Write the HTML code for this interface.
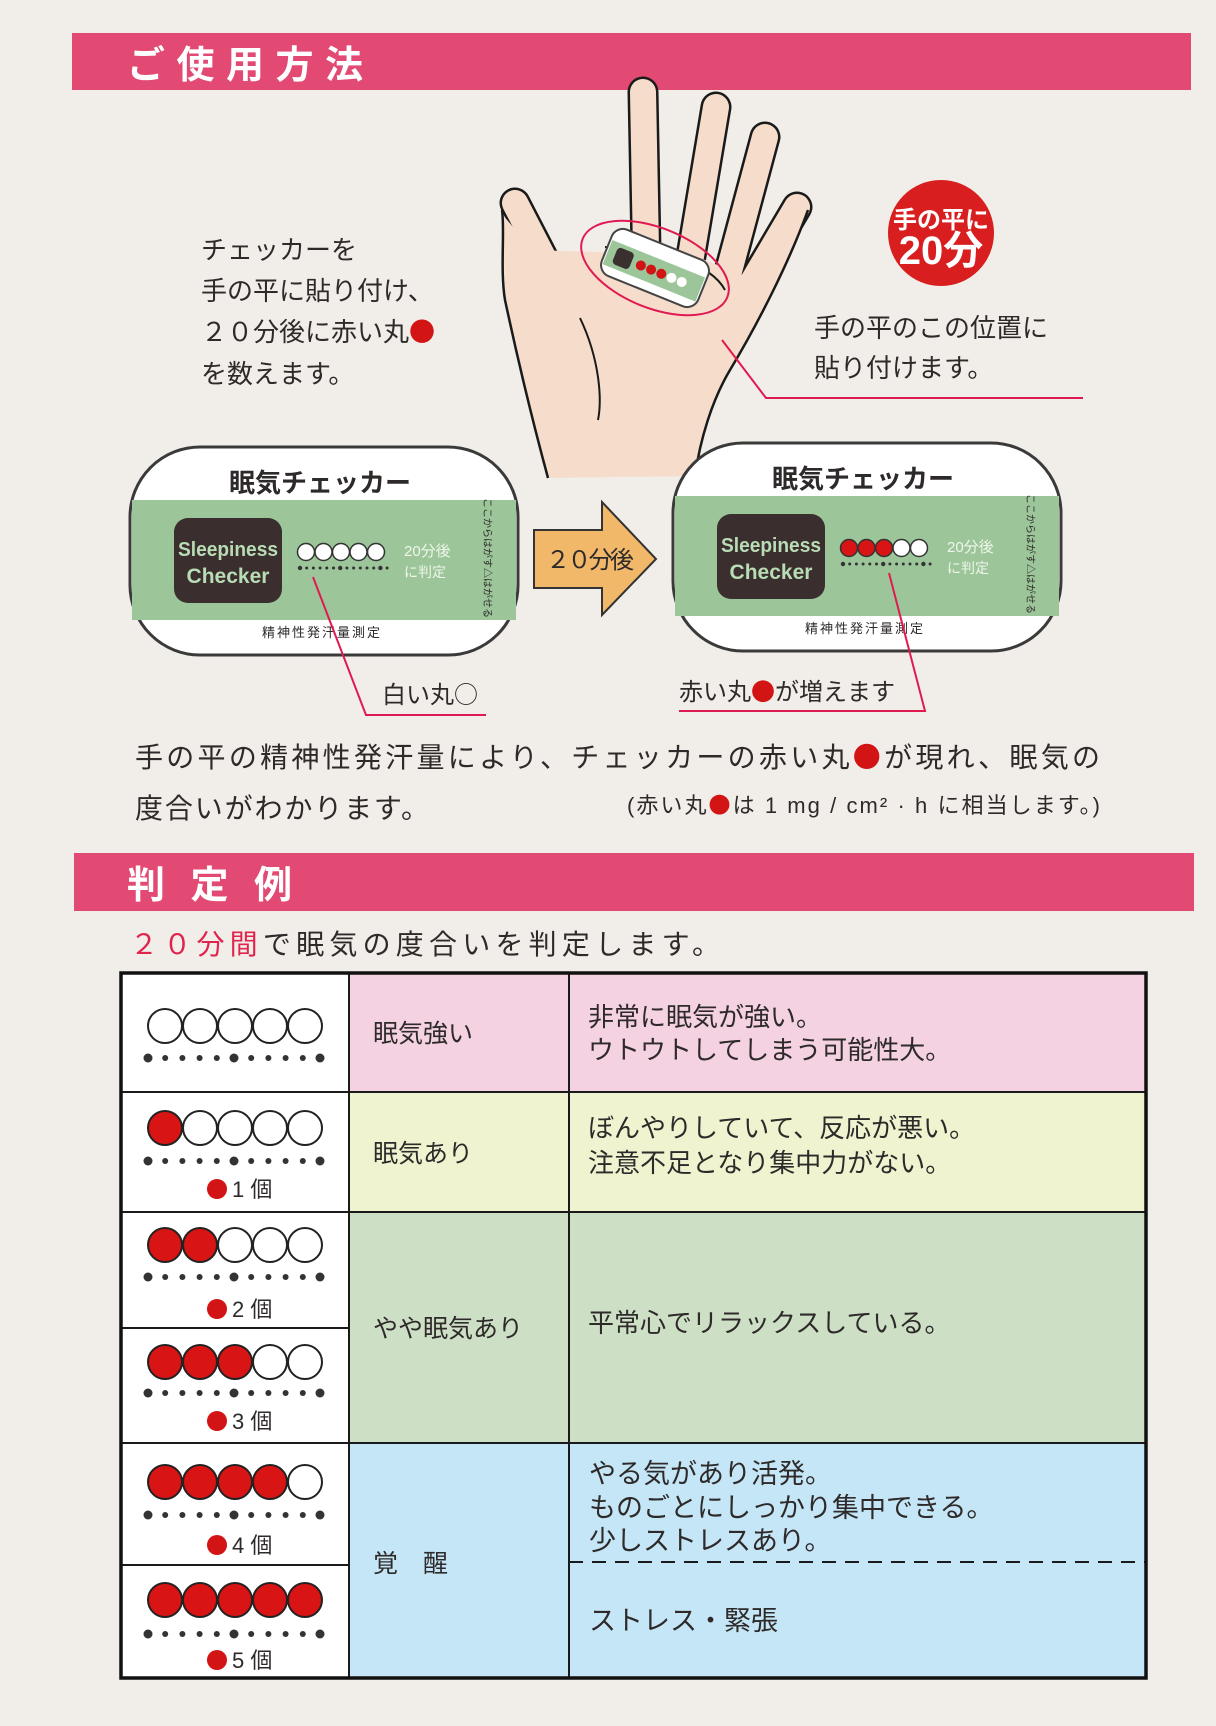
<!DOCTYPE html>
<html><head><meta charset="utf-8"><style>
html,body{margin:0;padding:0;background:#f1eee9;}
svg{display:block;}
text{font-family:"Liberation Sans","Noto Sans CJK JP",sans-serif;fill:#2e2a2a;}
.rd{fill:#d21414;font-family:"Noto Sans CJK JP",sans-serif;}
.cj{font-family:"Noto Sans CJK JP",sans-serif;}
</style></head><body>
<svg id="s" width="1216" height="1726" viewBox="0 0 1216 1726" xmlns="http://www.w3.org/2000/svg">
<rect width="1216" height="1726" fill="#f1eee9"/>
<!-- header 1 -->
<rect x="72" y="33" width="1119" height="57" fill="#e24a74"/>
<text x="127" y="78" font-size="38" font-weight="bold" style="fill:#fff" textLength="236" lengthAdjust="spacing">ご使用方法</text>

<!-- hand -->
<g stroke-linecap="round">
 <g stroke="#1a1a1a" stroke-width="31">
  <line x1="646" y1="250" x2="643" y2="92"/>
  <line x1="690" y1="262" x2="716" y2="107"/>
  <line x1="728" y1="275" x2="765" y2="137"/>
  <line x1="745" y1="295" x2="797" y2="207"/>
  <line x1="560" y1="290" x2="515" y2="203"/>
 </g>
 <g stroke="#f6dccb" stroke-width="26">
  <line x1="646" y1="250" x2="643" y2="92"/>
  <line x1="690" y1="262" x2="716" y2="107"/>
  <line x1="728" y1="275" x2="765" y2="137"/>
  <line x1="745" y1="295" x2="797" y2="207"/>
  <line x1="560" y1="290" x2="515" y2="203"/>
 </g>
</g>
<path d="M548 478 C535 430 520 370 505 300 L503 215 L532 250 L600 252 L700 258 L760 282 L800 215 L808 212 C790 260 760 320 730 370 C712 400 700 440 695 476 Z" fill="#f6dccb"/>
<path d="M548 478 C535 430 520 370 505 300 C500 270 505 230 502 210" fill="none" stroke="#1a1a1a" stroke-width="2.5"/>
<path d="M808 210 C790 260 760 320 730 370 C712 400 700 440 695 476" fill="none" stroke="#1a1a1a" stroke-width="2.5"/>
<path d="M580 318 C600 360 602 400 598 420" fill="none" stroke="#1a1a1a" stroke-width="2"/>
<path d="M605 247 C660 250 710 262 725 290" fill="none" stroke="#1a1a1a" stroke-width="2"/>
<!-- mini sticker -->
<g transform="translate(655,268) rotate(22)">
 <rect x="-52" y="-25" width="104" height="50" rx="12" fill="#fff" stroke="#444" stroke-width="2"/>
 <rect x="-50" y="-10" width="100" height="26" fill="#9cc69a"/>
 <rect x="-42" y="-6" width="18" height="18" rx="4" fill="#3a3030"/>
 <circle cx="-14" cy="3" r="5" fill="#d21414"/><circle cx="-3" cy="3" r="5" fill="#d21414"/><circle cx="8" cy="3" r="5" fill="#d21414"/>
 <circle cx="19" cy="3" r="5" fill="#fff"/><circle cx="30" cy="3" r="5" fill="#fff"/>
</g>
<ellipse cx="655" cy="268" rx="78" ry="40" transform="rotate(22 655 268)" fill="none" stroke="#e01a50" stroke-width="2"/>
<polyline points="722,340 766,398 1083,398" fill="none" stroke="#e01a50" stroke-width="2"/>

<!-- badge -->
<circle cx="941" cy="233" r="53" fill="#d81e1e"/>
<text x="941" y="228" font-size="24" font-weight="bold" text-anchor="middle" style="fill:#fff">手の平に</text>
<text x="941" y="264" font-size="40" font-weight="bold" text-anchor="middle" style="fill:#fff">20分</text>

<!-- left text -->
<text x="201" y="259" font-size="26">チェッカーを</text>
<text x="201" y="300" font-size="26">手の平に貼り付け、</text>
<text x="201" y="341" font-size="26">２０分後に赤い丸<tspan class="rd">●</tspan></text>
<text x="201" y="383" font-size="26">を数えます。</text>
<text x="814" y="337" font-size="26">手の平のこの位置に</text>
<text x="814" y="377" font-size="26">貼り付けます。</text>

<!-- checker template -->
<defs>
<g id="chk">
 <rect x="130" y="447" width="388" height="208" rx="70" fill="#fff" stroke="#3a3a3a" stroke-width="3"/>
 <rect x="132" y="500" width="384" height="120" fill="#9cc69a"/>
 <rect x="174" y="518" width="108" height="85" rx="14" fill="#3a2e2e"/>
 <text x="228" y="556" font-size="20" font-weight="bold" text-anchor="middle" style="fill:#b8dcb4" textLength="100" lengthAdjust="spacingAndGlyphs">Sleepiness</text>
 <text x="228" y="583" font-size="21" font-weight="bold" text-anchor="middle" style="fill:#b8dcb4">Checker</text>
 <text x="404" y="556" font-size="15" style="fill:#eef6ea">20分後</text>
 <text x="404" y="577" font-size="14" style="fill:#eef6ea">に判定</text>
 <text x="320" y="492" font-size="26" font-weight="bold" text-anchor="middle">眠気チェッカー</text>
 <text x="322" y="637" font-size="13" text-anchor="middle" letter-spacing="2">精神性発汗量測定</text>
 <text transform="translate(484,558) rotate(90)" font-size="10" text-anchor="middle">ここからはがす△はがせる</text>
</g>
</defs>
<use href="#chk"/>
<use href="#chk" transform="translate(543,-4)"/>
<g id="cc1"></g>
<polyline points="313,577 366,715 486,715" fill="none" stroke="#e01a50" stroke-width="2"/>
<text x="382" y="703" font-size="24">白い丸<tspan class="cj">○</tspan></text>
<polyline points="889,573 925,711 679,711" fill="none" stroke="#e01a50" stroke-width="2"/>
<text x="679" y="700" font-size="24">赤い丸<tspan class="rd">●</tspan>が増えます</text>

<!-- arrow -->
<path d="M534 530 L602 530 L602 502 L656 559 L602 615 L602 588 L534 588 Z" fill="#f2b86a" stroke="#333" stroke-width="2"/>
<text x="546" y="568" font-size="24" textLength="88">２０分後</text>

<!-- paragraph -->
<text x="135" y="767" font-size="28" textLength="965" lengthAdjust="spacing">手の平の精神性発汗量により、チェッカーの赤い丸<tspan class="rd">●</tspan>が現れ、眠気の</text>
<text x="135" y="818" font-size="28" textLength="294" lengthAdjust="spacing">度合いがわかります。</text>
<text x="627" y="813" font-size="22" textLength="473" lengthAdjust="spacing">(赤い丸<tspan class="rd">●</tspan>は 1 mg / cm² · h に相当します。)</text>

<!-- header 2 -->
<rect x="74" y="853" width="1120" height="58" fill="#e24a74"/>
<text x="127" y="898" font-size="38" font-weight="bold" style="fill:#fff" textLength="165" lengthAdjust="spacing">判定例</text>
<text x="130" y="954" font-size="28" textLength="590" lengthAdjust="spacing"><tspan style="fill:#e0244e">２０分間</tspan>で眠気の度合いを判定します。</text>

<!-- table -->
<rect x="121" y="973" width="1025" height="705" fill="#fff"/>
<rect x="349" y="973" width="797" height="119" fill="#f4d2e2"/>
<rect x="349" y="1092" width="797" height="120" fill="#eff3cf"/>
<rect x="349" y="1212" width="797" height="231" fill="#cde0c6"/>
<rect x="349" y="1443" width="797" height="235" fill="#c5e6f6"/>
<g stroke="#1a1a1a" stroke-width="2">
 <line x1="349" y1="973" x2="349" y2="1678"/>
 <line x1="569" y1="973" x2="569" y2="1678"/>
 <line x1="121" y1="1092" x2="1146" y2="1092"/>
 <line x1="121" y1="1212" x2="1146" y2="1212"/>
 <line x1="121" y1="1328" x2="349" y2="1328"/>
 <line x1="121" y1="1443" x2="1146" y2="1443"/>
 <line x1="121" y1="1565" x2="349" y2="1565"/>
 <line x1="569" y1="1562" x2="1146" y2="1562" stroke-dasharray="14,9"/>
</g>
<rect x="121" y="973" width="1025" height="705" fill="none" stroke="#111" stroke-width="3.5"/>
<g id="dots"></g>
<text x="373" y="1042" font-size="25">眠気強い</text>
<text x="373" y="1162" font-size="25">眠気あり</text>
<text x="373" y="1337" font-size="25">やや眠気あり</text>
<text x="373" y="1572" font-size="25">覚　醒</text>
<text x="588" y="1026" font-size="26">非常に眠気が強い。</text>
<text x="588" y="1059" font-size="26">ウトウトしてしまう可能性大。</text>
<text x="588" y="1137" font-size="26">ぼんやりしていて、反応が悪い。</text>
<text x="588" y="1172" font-size="26">注意不足となり集中力がない。</text>
<text x="588" y="1332" font-size="26">平常心でリラックスしている。</text>
<text x="589" y="1483" font-size="27">やる気があり活発。</text>
<text x="589" y="1517" font-size="27">ものごとにしっかり集中できる。</text>
<text x="589" y="1550" font-size="27">少しストレスあり。</text>
<text x="589" y="1630" font-size="27">ストレス・緊張</text>
<g id="lbl"></g>
<text x="232" y="1197" font-size="22">1 個</text>
<text x="232" y="1317" font-size="22">2 個</text>
<text x="232" y="1429" font-size="22">3 個</text>
<text x="232" y="1553" font-size="22">4 個</text>
<text x="232" y="1668" font-size="22">5 個</text>
</svg>
<script>
var NS="http://www.w3.org/2000/svg";
function el(p,t,a){var e=document.createElementNS(NS,t);for(var k in a)e.setAttribute(k,a[k]);p.appendChild(e);return e;}
var g=document.getElementById("dots");
var rows=[[1026,1058,0],[1128,1161,1],[1245,1277,2],[1362,1393,3],[1482,1515,4],[1600,1634,5]];
rows.forEach(function(r){
 for(var i=0;i<5;i++){el(g,"circle",{cx:165+35*i,cy:r[0],r:17,fill:i<r[2]?"#d81414":"#fff",stroke:"#222","stroke-width":2});}
 for(var j=0;j<11;j++){var b=(j%5==0);el(g,"circle",{cx:148+17.2*j,cy:r[1],r:b?4.5:3,fill:"#333"});}
});
[1189,1309,1421,1545,1660].forEach(function(y){el(g,"circle",{cx:217,cy:y,r:10,fill:"#d21414"});});
var c=document.getElementById("cc1");
function chkDots(dx,dy,nred){
 for(var i=0;i<5;i++)el(c,"circle",{cx:306+dx+17.5*i,cy:552+dy,r:8.5,fill:i<nred?"#d81414":"#fff",stroke:"#333","stroke-width":1.5});
 for(var j=0;j<14;j++)el(c,"circle",{cx:300+dx+6.7*j,cy:568+dy,r:j%6==0?2.2:1.5,fill:"#333"});
}
chkDots(0,0,0);chkDots(543,-4,3);
</script>
</body></html>
